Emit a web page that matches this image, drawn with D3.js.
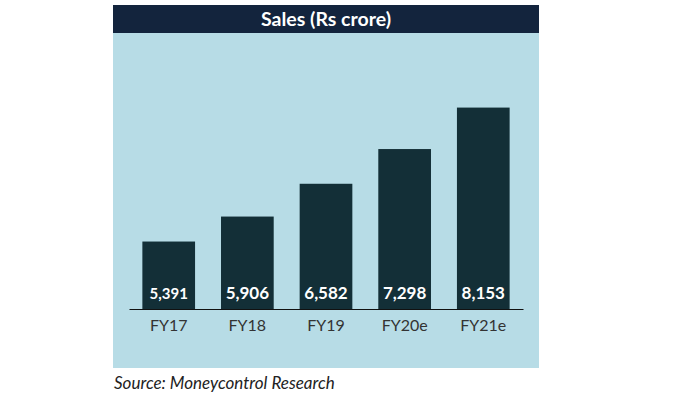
<!DOCTYPE html>
<html>
<head>
<meta charset="utf-8">
<script src="https://cdn.jsdelivr.net/npm/d3@7"></script>
<style>
  body { margin: 0; background: #fff; }
  text { font-family: Lato, "Open Sans", sans-serif; }
</style>
</head>
<body>
<svg></svg>
<script>
const categories = ['FY17', 'FY18', 'FY19', 'FY20e', 'FY21e'];
const sales = [5391, 5906, 6582, 7298, 8153];
const labels = ['5,391', '5,906', '6,582', '7,298', '8,153'];

const width = 679;
const height = 396;

const svg = d3.select('svg')
  .attr('width', width)
  .attr('height', height);

// panel background
svg.append('rect')
  .attr('x', 113).attr('y', 33)
  .attr('width', 426).attr('height', 335)
  .style('fill', '#b7dce6');

// title bar
svg.append('rect')
  .attr('x', 113).attr('y', 5)
  .attr('width', 426).attr('height', 28)
  .style('fill', '#13243d');

svg.append('text')
  .attr('x', 326).attr('y', 26)
  .attr('text-anchor', 'middle')
  .style('font-size', '19.5px')
  .style('font-weight', 'bold')
  .style('fill', '#fff')
  .text('Sales (Rs crore)');

const xScale = d3.scaleBand()
  .domain(categories)
  .range([129, 523])
  .paddingInner(0.33)
  .paddingOuter(0.17);

const yScale = d3.scaleLinear()
  .domain([4000, 9000])
  .range([309, 66.5]);

svg.selectAll('.bar')
  .data(sales)
  .enter()
  .append('rect')
  .attr('class', 'bar')
  .attr('x', (d, i) => xScale(categories[i]))
  .attr('y', d => yScale(d))
  .attr('width', xScale.bandwidth())
  .attr('height', d => yScale(4000) - yScale(d))
  .style('fill', '#132f37');

svg.selectAll('.val')
  .data(labels)
  .enter()
  .append('text')
  .attr('class', 'val')
  .attr('x', (d, i) => xScale(categories[i]) + xScale.bandwidth() / 2)
  .attr('y', 299)
  .attr('text-anchor', 'middle')
  .style('font-size', (d, i) => i === 0 ? '15px' : '17px')
  .style('font-weight', 'bold')
  .style('fill', '#fff')
  .text(d => d);

const xAxis = d3.axisBottom(xScale).tickSize(0).tickPadding(11);

const gx = svg.append('g')
  .attr('transform', `translate(0, 309)`)
  .call(xAxis);

gx.select('.domain').attr('stroke', '#111').attr('stroke-width', 1.2);
gx.selectAll('text')
  .style('font-size', '16px')
  .style('fill', '#333')
  .style('font-family', 'Lato, "Open Sans", sans-serif');

svg.append('text')
  .attr('x', 114).attr('y', 389)
  .style('font-size', '17px')
  .style('font-style', 'italic')
  .style('fill', '#222')
  .text('Source: Moneycontrol Research');
</script>
</body>
</html>
